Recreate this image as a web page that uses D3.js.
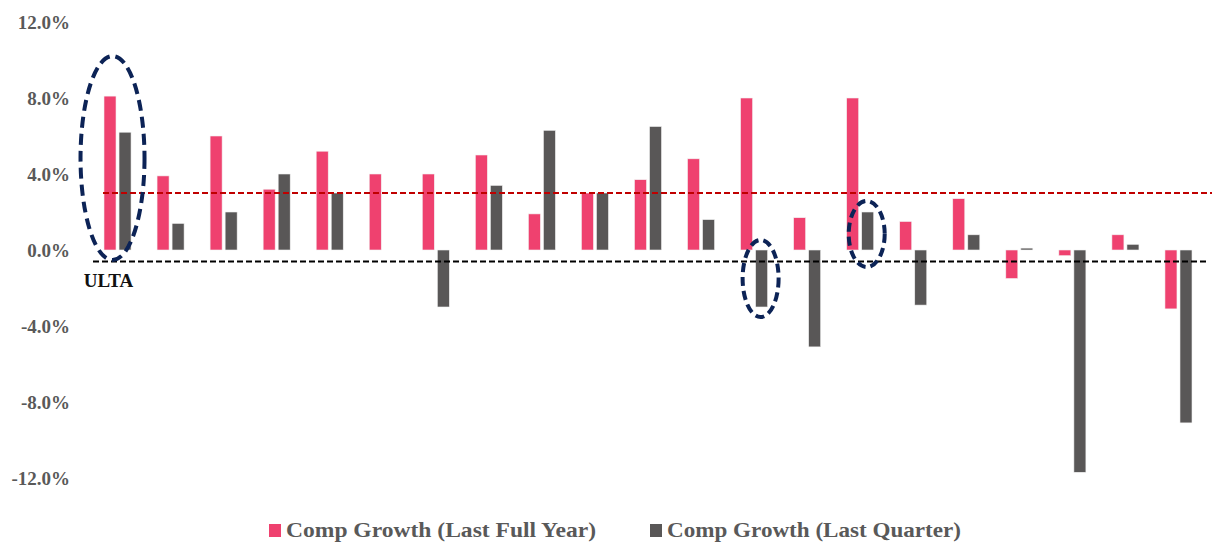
<!DOCTYPE html>
<html>
<head>
<meta charset="utf-8">
<script src="https://cdn.jsdelivr.net/npm/d3@7"></script>
<style>
  body { margin: 0; background: #fff; }
  svg text { font-family: "Liberation Serif", "DejaVu Serif", serif; font-weight: bold; }
</style>
</head>
<body>
<svg id="chart" width="1214" height="542"></svg>
<script>
  // data
  var labels = ["ULTA","","","","","","","","","","","","","","","","","","","",""];
  var lastFullYear = [8.1, 3.9, 6.0, 3.2, 5.2, 4.0, 4.0, 5.0, 1.9, 3.0, 3.7, 4.8, 8.0, 1.7, 8.0, 1.5, 2.7, -1.5, -0.3, 0.8, -3.1];
  var lastQuarter  = [6.2, 1.4, 2.0, 4.0, 3.0, 0.0, -3.0, 3.4, 6.3, 3.0, 6.5, 1.6, -3.0, -5.1, 2.0, -2.9, 0.8, 0.1, -11.7, 0.3, -9.1];
  var yTicks = [-12, -8, -4, 0, 4, 8, 12];
  var refLines = [3.0, -0.6];
  var seriesNames = ["Comp Growth (Last Full Year)", "Comp Growth (Last Quarter)"];

  var pink = "#ef416f";
  var grey = "#595757";
  var font = "'Liberation Serif', 'DejaVu Serif', serif";

  var svg = d3.select("#chart");

  var idx = d3.range(labels.length);
  var x = d3.scaleBand().domain(idx).range([91, 1205]).paddingInner(0.49).paddingOuter(0.245);
  var x1 = d3.scaleBand().domain([0, 1]).range([0, x.bandwidth()]).paddingInner(0.2);
  var y = d3.scaleLinear().domain([-12, 12]).range([478, 22]);

  // y axis labels
  var yAxis = d3.axisLeft(y).tickValues(yTicks).tickSize(0).tickPadding(0)
    .tickFormat(function(d){ return d3.format(".1f")(d).replace("\u2212", "-") + "%"; });
  var ga = svg.append("g").attr("transform", "translate(70,0)").call(yAxis)
    .attr("font-family", font).attr("font-size", 19);
  ga.select(".domain").remove();
  ga.selectAll("text").attr("fill", "#595959").attr("dy", "0.35em")
    .style("font-family", font).style("font-weight", "bold").style("font-size", "19px");

  // bars
  var rows = idx.map(function(i){ return { i: i, vals: [lastFullYear[i], lastQuarter[i]] }; });
  var groups = svg.append("g").selectAll("g").data(rows).enter().append("g")
    .attr("transform", function(d){ return "translate(" + x(d.i) + ",0)"; });
  groups.selectAll("rect").data(function(d){ return d.vals.map(function(v, k){ return {k: k, v: v}; }); })
    .enter().append("rect")
    .attr("x", function(d){ return x1(d.k); })
    .attr("width", x1.bandwidth())
    .attr("y", function(d){ return y(Math.max(0, d.v)); })
    .attr("height", function(d){ return Math.abs(y(d.v) - y(0)); })
    .attr("fill", function(d){ return d.k == 0 ? pink : grey; })
    .attr("stroke", "#f2f2f2").attr("stroke-width", 0.6);

  // reference lines
  svg.append("line")
    .attr("x1", 103).attr("x2", 1212)
    .attr("y1", y(refLines[0])).attr("y2", y(refLines[0]))
    .attr("stroke", "#c00000").attr("stroke-width", 2).attr("stroke-dasharray", "6,3");
  svg.append("line")
    .attr("x1", 93).attr("x2", 1208)
    .attr("y1", y(refLines[1])).attr("y2", y(refLines[1]))
    .attr("stroke", "#000").attr("stroke-width", 2).attr("stroke-dasharray", "6,3");

  // category label
  svg.append("text").attr("x", x(0) + x.bandwidth()/2 - 9).attr("y", 287)
    .attr("text-anchor", "middle").style("font-size", "19px").attr("fill", "#111")
    .text(labels[0]);

  // highlight ellipses
  var navy = "#0c2356";
  // first one wraps the whole group, the others only the quarter bar
  var e0top = Math.max(lastFullYear[0], lastQuarter[0]);
  svg.append("ellipse")
    .attr("cx", x(0) + x.bandwidth()/2 - 5)
    .attr("cy", (y(e0top) + y(0)) / 2 - 15)
    .attr("rx", 32).attr("ry", (y(0) - y(e0top)) / 2 + 25)
    .attr("fill", "none").attr("stroke", navy).attr("stroke-width", 4).attr("stroke-dasharray", "11,6");
  [[12, 0, 10], [14, 3, 14]].forEach(function(h){
    var i = h[0], v = lastQuarter[i];
    var cx = x(i) + x1(1) + x1.bandwidth()/2;
    svg.append("ellipse")
      .attr("cx", cx - 1)
      .attr("cy", (y(v) + y(0)) / 2 + h[1])
      .attr("rx", 18).attr("ry", Math.abs(y(v) - y(0)) / 2 + h[2])
      .attr("fill", "none").attr("stroke", navy).attr("stroke-width", 4).attr("stroke-dasharray", "9,5");
  });

  // legend
  var legendX = [269, 650];
  var legendW = [310, 294];
  var lg = svg.append("g").selectAll("g").data(seriesNames).enter().append("g")
    .attr("transform", function(d, k){ return "translate(" + legendX[k] + ",524)"; });
  lg.append("rect").attr("width", 12).attr("height", 13)
    .attr("fill", function(d, k){ return k == 0 ? pink : grey; });
  lg.append("text").attr("x", 17).attr("y", 13)
    .style("font-size", "22px").attr("fill", "#595959")
    .attr("textLength", function(d, k){ return legendW[k]; })
    .attr("lengthAdjust", "spacingAndGlyphs")
    .text(function(d){ return d; });
</script>
</body>
</html>
